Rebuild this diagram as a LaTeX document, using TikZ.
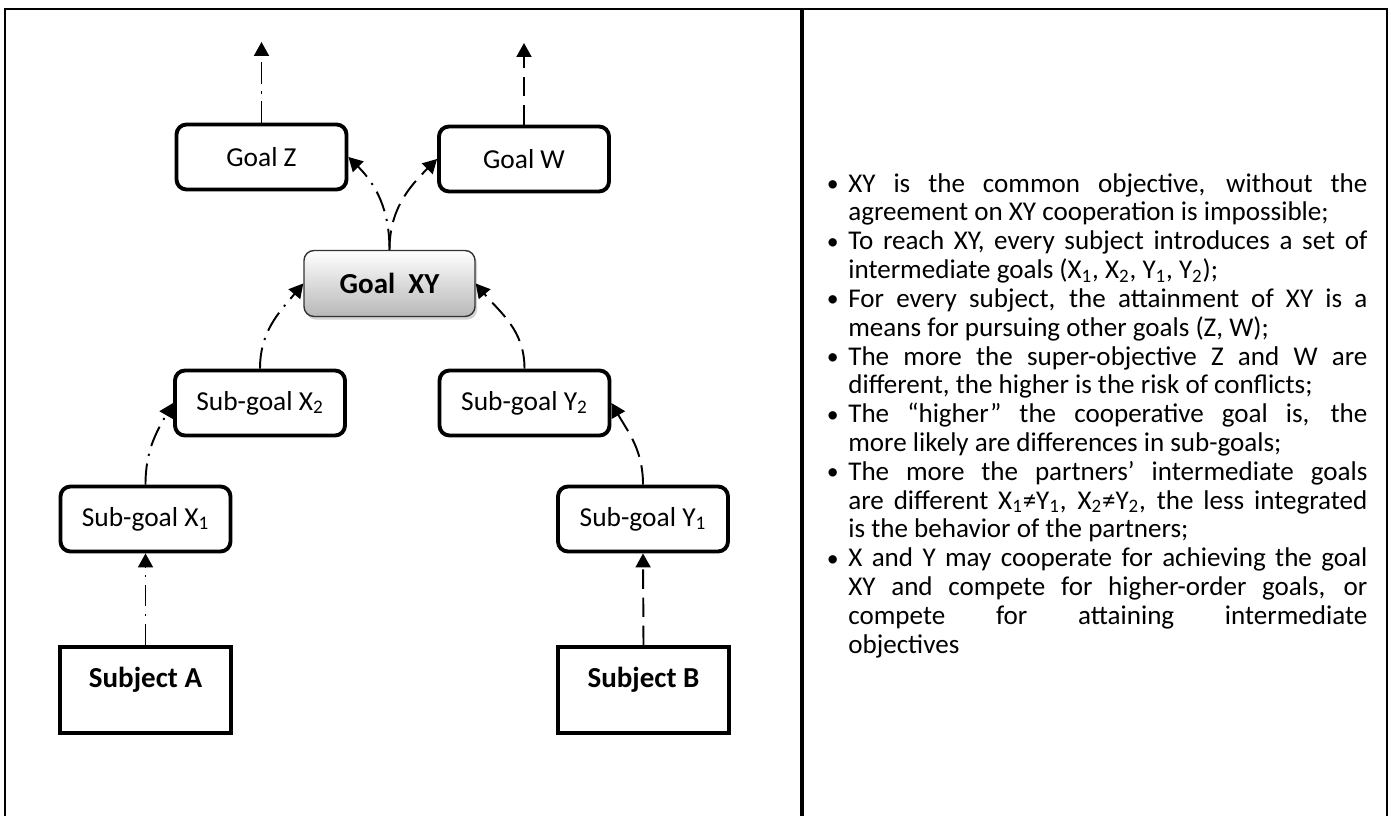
\documentclass[tikz,border=0pt]{standalone}
\usepackage{fontspec}
\setmainfont{Carlito}
\usetikzlibrary{arrows.meta,shadows}

% one bullet point of the notes column
\newcommand{\goalnote}[1]{\noindent\hangindent=0.48cm\hangafter=1%
  \makebox[0.48cm][l]{\hspace{0.05cm}\raisebox{0.05ex}{\fontsize{13.5}{13.5}\selectfont\textbullet}}#1\par}

\begin{document}
\begin{tikzpicture}[
    goalbox/.style={draw, line width=2.2pt, rounded corners=0.2cm,
      minimum width=3.4cm, minimum height=1.3cm,
      font=\fontsize{15.6}{17}\selectfont},
    commonbox/.style={draw=black!80, line width=0.8pt, rounded corners=0.2cm,
      minimum width=3.42cm, minimum height=1.32cm,
      top color=white, bottom color=black!28,
      drop shadow={shadow xshift=1.2pt, shadow yshift=-1.8pt, opacity=0.35},
      font=\fontsize{16.5}{19}\selectfont\bfseries},
    subjectbox/.style={draw, line width=2.2pt,
      minimum width=3.42cm, minimum height=1.72cm, text depth=0.52cm,
      font=\fontsize{16.5}{19}\selectfont\bfseries},
    link/.style={line width=1.1pt, -{Triangle[length=0.28cm,width=0.3cm]}},
    xlink/.style={link, dash pattern=on 12pt off 4.5pt on 1.2pt off 4.5pt},
    ylink/.style={link, dash pattern=on 11pt off 5pt}]
		\useasboundingbox (0,0) rectangle (27.82,16.32);
		% frame
		\draw[line width=1.2pt] (0.1,0) -- (0.1,16.14) -- (27.74,16.14) -- (27.74,0);
		\draw[line width=1.8pt] (16.04,0) -- (16.04,16.14);
		% goals
		\node[goalbox] (gz) at (5.23,13.18) {Goal Z};
		\node[goalbox] (gw) at (10.48,13.14) {Goal W};
		\node[commonbox] (xy) at (7.79,10.65) {Goal~~XY};
		\node[goalbox] (x2) at (5.20,8.26) {Sub-goal X\textsubscript{2}};
		\node[goalbox] (y2) at (10.49,8.26) {Sub-goal Y\textsubscript{2}};
		\node[goalbox] (x1) at (2.91,5.94) {Sub-goal X\textsubscript{1}};
		\node[goalbox] (y1) at (12.86,5.94) {Sub-goal Y\textsubscript{1}};
		\node[subjectbox] (sa) at (2.91,2.52) {Subject A};
		\node[subjectbox] (sb) at (12.87,2.52) {Subject B};
		\coordinate (gzup) at (5.23,15.48);
		\coordinate (gwup) at (10.48,15.46);
		% links
		\draw[xlink] (sa.north) -- (x1.south);
		\draw[ylink] (sb.north) -- (y1.south);
		\draw[xlink] (x1.north) to[out=90,in=-120] (x2.west);
		\draw[ylink] (y1.north) to[out=90,in=-60] (y2.east);
		\draw[xlink] (x2.north) to[out=90,in=-130] (xy.west);
		\draw[ylink] (y2.north) to[out=90,in=-50] (xy.east);
		\draw[xlink] (xy.north) to[out=90,in=-45] (gz.east);
		\draw[ylink] (xy.north) to[out=90,in=-135] (gw.west);
		\draw[xlink] (gz.north) -- (gzup);
		\draw[ylink] (gw.north) -- (gwup);
		% notes
		\node[anchor=north west, text width=10.86cm, inner sep=0pt, align=justify,
		  font=\fontsize{15.4}{16.4}\selectfont] (notes) at (16.48,12.86) {%
		  \hbadness=10000 \hyphenpenalty=10000 \parskip=0pt
		  \goalnote{XY is the common objective, without the\linebreak
		    agreement on XY cooperation is impossible;}
		  \goalnote{To reach XY, every subject introduces a set of\linebreak
		    intermediate goals (X\textsubscript{1}, X\textsubscript{2}, Y\textsubscript{1}, Y\textsubscript{2});}
		  \goalnote{For every subject, the attainment of XY is a\linebreak
		    means for pursuing other goals (Z, W);}
		  \goalnote{The more the super-objective Z and W are\linebreak
		    different, the higher is the risk of conflicts;}
		  \goalnote{The “higher” the cooperative goal is, the\linebreak
		    more likely are differences in sub-goals;}
		  \goalnote{The more the partners’ intermediate goals\linebreak
		    are different X\textsubscript{1}≠Y\textsubscript{1}, X\textsubscript{2}≠Y\textsubscript{2}, the less integrated\linebreak
		    is the behavior of the partners;}
		  \goalnote{X and Y may cooperate for achieving the goal\linebreak
		    XY and compete for higher-order goals, or\linebreak
		    compete for attaining intermediate\linebreak
		    objectives}};
\end{tikzpicture}
\end{document}
